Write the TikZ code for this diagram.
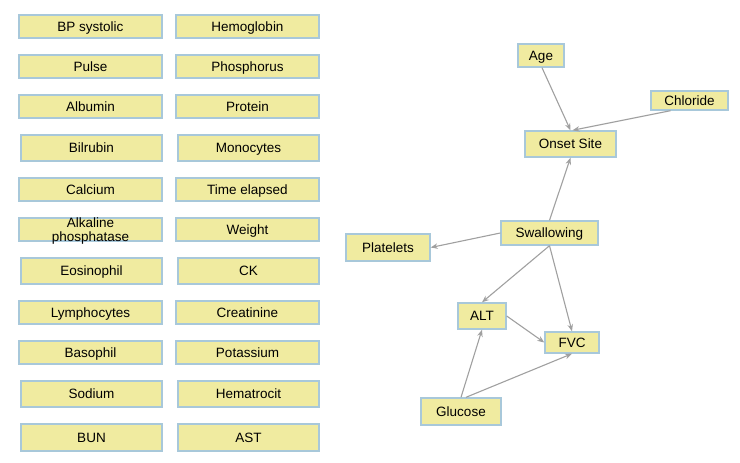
\documentclass[tikz,border=0pt]{standalone}
\usepackage{fontspec}
\setmainfont{Liberation Sans}
\usetikzlibrary{arrows.meta}
\definecolor{boxfill}{RGB}{240,235,160}
\definecolor{boxline}{RGB}{168,200,218}
\definecolor{edgecol}{RGB}{160,160,160}
\tikzset{
  box/.style={draw=boxline, line width=1.4pt, fill=boxfill, inner sep=0pt,
    text height=9.5pt, text depth=0.5pt,
    font=\fontsize{13.5}{14}\selectfont, text=black},
  lbl/.style={inner sep=0pt, font=\fontsize{13.5}{14}\selectfont, align=center, text=black},
  edge/.style={draw=edgecol, line width=1.1pt, -{Stealth[length=7pt,width=5.5pt]}},
}
\newcommand{\bx}[7]{% name, cx, cy, w, h, text
  \node[box, minimum width=#4pt, minimum height=#5pt] (#1) at (#2,#3) {#6};}
\begin{document}
\begin{tikzpicture}[x=1pt,y=-1pt]
\useasboundingbox (0,0) rectangle (740,463);
% left column
\bx{bp}{90.5}{26.5}{143}{23}{BP systolic}{}
\bx{pulse}{90.5}{66.5}{143}{23}{Pulse}{}
\bx{alb}{90.5}{106.5}{143}{23}{Albumin}{}
\bx{bil}{91.5}{148}{141}{26}{Bilrubin}{}
\bx{cal}{90.5}{189.5}{143}{23}{Calcium}{}
\bx{alk}{90.5}{229.5}{143}{23}{}{}
\node[lbl] at (90.5,231) {Alkaline\\phosphatase};
\bx{eos}{91.5}{271}{141}{26}{Eosinophil}{}
\bx{lym}{90.5}{312.5}{143}{23}{Lymphocytes}{}
\bx{baso}{90.5}{352.5}{143}{23}{Basophil}{}
\bx{sod}{91.5}{394}{141}{26}{Sodium}{}
\bx{bun}{91.5}{437.5}{141}{27}{BUN}{}
% right column
\bx{hem}{247.5}{26.5}{143}{23}{Hemoglobin}{}
\bx{phos}{247.5}{66.5}{143}{23}{Phosphorus}{}
\bx{prot}{247.5}{106.5}{143}{23}{Protein}{}
\bx{mono}{248.5}{148}{141}{26}{Monocytes}{}
\bx{time}{247.5}{189.5}{143}{23}{Time elapsed}{}
\bx{wt}{247.5}{229.5}{143}{23}{Weight}{}
\bx{ck}{248.5}{271}{141}{26}{CK}{}
\bx{crea}{247.5}{312.5}{143}{23}{Creatinine}{}
\bx{pot}{247.5}{352.5}{143}{23}{Potassium}{}
\bx{hema}{248.5}{394}{141}{26}{Hematrocit}{}
\bx{ast}{248.5}{437.5}{141}{27}{AST}{}
% graph
\bx{age}{541}{55.5}{46}{23}{Age}{}
\bx{chl}{689.5}{100.5}{77}{19}{Chloride}{}
\bx{onset}{570.5}{144}{91}{26}{Onset Site}{}
\bx{swal}{549.5}{233}{97}{24}{Swallowing}{}
\bx{plat}{388}{247.5}{84}{27}{Platelets}{}
\bx{alt}{482}{316}{48}{26}{ALT}{}
\bx{fvc}{572}{342.5}{54}{21}{FVC}{}
\bx{glu}{461}{411.5}{80}{27}{Glucose}{}
% edges
\draw[edge] ([xshift=1pt]age.south) -- (onset.north);
\draw[edge] ([xshift=-19pt]chl.south) -- ([xshift=2pt]onset.north);
\draw[edge] (swal.north) -- (onset.south);
\draw[edge] (swal.west) -- (plat.east);
\draw[edge] (swal.south) -- (alt.north);
\draw[edge] (swal.south) -- (fvc.north);
\draw[edge] (alt.east) -- (fvc.west);
\draw[edge] (glu.north) -- (alt.south);
\draw[edge] ([xshift=5pt]glu.north) -- (fvc.south);
\end{tikzpicture}
\end{document}
